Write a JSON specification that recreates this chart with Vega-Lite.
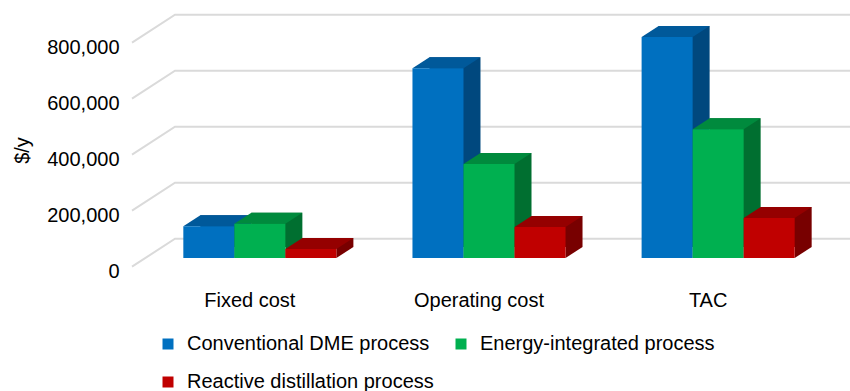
{
  "$schema": "https://vega.github.io/schema/vega-lite/v6.json",
  "width": 714,
  "height": 224,
  "autosize": {"type": "none"},
  "padding": {"left": 132, "top": 34, "right": 4, "bottom": 133},
  "background": "white",
  "config": {
    "view": {"stroke": null},
    "font": "Liberation Sans",
    "axisY": {
      "labelFontSize": 20, "labelColor": "black", "labelPadding": 13, "labelOffset": 13.5,
      "domain": false, "ticks": false, "tickSize": 0, "grid": false, "tickCount": 4,
      "titleFontSize": 20, "titleFontWeight": "normal", "titleColor": "black",
      "titleX": -110, "titleY": 116, "titleAngle": -90, "titleAlign": "center", "titleBaseline": "middle"
    },
    "axisX": {
      "labelFontSize": 20, "labelColor": "black", "labelOffset": -10, "labelPadding": 32,
      "domain": false, "ticks": false, "tickSize": 0, "labelAngle": 0, "grid": false
    }
  },
  "datasets": {
    "costs": [
      {"cat": "Fixed cost", "series": "Conventional DME process", "value": 113000},
      {"cat": "Fixed cost", "series": "Energy-integrated process", "value": 122000},
      {"cat": "Fixed cost", "series": "Reactive distillation process", "value": 32000},
      {"cat": "Operating cost", "series": "Conventional DME process", "value": 678000},
      {"cat": "Operating cost", "series": "Energy-integrated process", "value": 336000},
      {"cat": "Operating cost", "series": "Reactive distillation process", "value": 111000},
      {"cat": "TAC", "series": "Conventional DME process", "value": 789000},
      {"cat": "TAC", "series": "Energy-integrated process", "value": 460000},
      {"cat": "TAC", "series": "Reactive distillation process", "value": 143000}
    ],
    "grid": [{"v": 0}, {"v": 200000}, {"v": 400000}, {"v": 600000}, {"v": 800000}]
  },
  "resolve": {"scale": {"color": "independent", "xOffset": "independent"}},
  "layer": [
    {
      "data": {"name": "grid"},
      "mark": {"type": "point", "shape": "M-357,8.7L-314,-19.3L361,-19.3", "size": 4, "filled": false, "stroke": "#DADADA", "strokeWidth": 2, "opacity": 1},
      "encoding": {
        "y": {"field": "v", "type": "quantitative", "scale": {"domain": [0, 800000], "nice": false}, "axis": {"title": "$/y"}}
      }
    },
    {
      "data": {"name": "costs"},
      "mark": {"type": "bar", "yOffset": -11, "y2Offset": -11},
      "encoding": {
        "x": {"field": "cat", "type": "nominal", "scale": {"paddingInner": 0.332, "paddingOuter": 0.224}, "axis": {"title": null}},
        "xOffset": {"field": "series", "type": "nominal", "scale": {"range": [17, 170.06]}},
        "y": {"field": "value", "type": "quantitative", "axis": {"title": "$/y"}},
        "color": {"field": "series", "type": "nominal", "scale": {"range": ["#00487E", "#006F30", "#780000"]}, "legend": null}
      }
    },
    {
      "data": {"name": "costs"},
      "mark": {"type": "point", "shape": "M25.5,-11L25.5,0L42.5,-11Z", "size": 4, "filled": true, "strokeWidth": 0, "opacity": 1},
      "encoding": {
        "x": {"field": "cat", "type": "nominal", "axis": {"title": null}},
        "xOffset": {"field": "series", "type": "nominal"},
        "y": {"datum": 0, "type": "quantitative", "axis": {"title": "$/y"}},
        "color": {"field": "series", "type": "nominal", "scale": {"range": ["#00487E", "#006F30", "#780000"]}, "legend": null}
      }
    },
    {
      "data": {"name": "costs"},
      "mark": {"type": "point", "shape": "M-25.5,0L25.5,0L42.5,-11L-8.5,-11Z", "size": 4, "filled": true, "strokeWidth": 0, "opacity": 1},
      "encoding": {
        "x": {"field": "cat", "type": "nominal", "axis": {"title": null}},
        "xOffset": {"field": "series", "type": "nominal"},
        "y": {"field": "value", "type": "quantitative", "axis": {"title": "$/y"}},
        "color": {"field": "series", "type": "nominal", "scale": {"range": ["#00599A", "#008A3D", "#950000"]}, "legend": null}
      }
    },
    {
      "data": {"name": "costs"},
      "mark": {"type": "bar"},
      "encoding": {
        "x": {"field": "cat", "type": "nominal", "axis": {"title": null}},
        "xOffset": {"field": "series", "type": "nominal"},
        "y": {"field": "value", "type": "quantitative", "axis": {"title": "$/y"}},
        "color": {
          "field": "series", "type": "nominal",
          "scale": {"range": ["#0070C0", "#00B050", "#C00000"]},
          "legend": {
            "orient": "none", "legendX": 26, "legendY": 300, "columns": 2, "direction": "horizontal",
            "title": null, "padding": 0,
            "symbolType": "square", "symbolSize": 121, "symbolStrokeWidth": 0,
            "labelFontSize": 20, "labelColor": "black", "labelOffset": 9, "labelLimit": 0,
            "columnPadding": 17, "rowPadding": 18
          }
        }
      }
    }
  ]
}
